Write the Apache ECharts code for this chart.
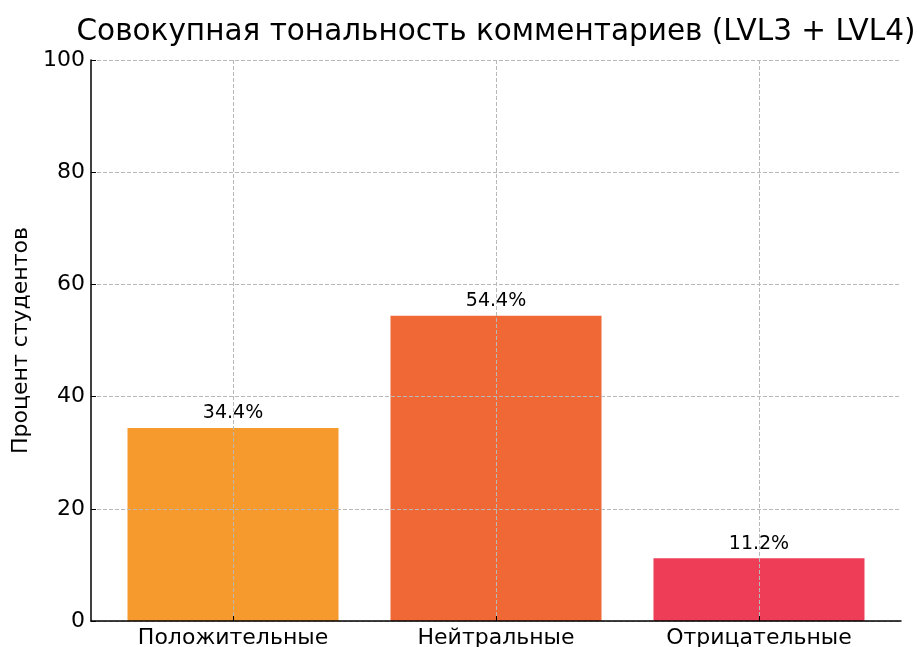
<!DOCTYPE html>
<html>
<head>
<meta charset="utf-8">
<script src="https://cdn.jsdelivr.net/npm/echarts@6/dist/echarts.min.js"></script>
<style>
  html, body { margin: 0; padding: 0; background: #fff; }
  #chart { width: 917px; height: 647px; }
</style>
</head>
<body>
<div id="chart"></div>
<script>
// данные
const categories = ['Положительные', 'Нейтральные', 'Отрицательные'];
const values = [34.4, 54.4, 11.2];
const colors = ['#F69A2E', '#F06836', '#EE3D57'];
const positions = [0, 1, 2];

const chart = echarts.init(document.getElementById('chart'), null, {renderer: 'canvas'});
const font = 'DejaVu Sans';
const gridLine = {show: true, lineStyle: {color: '#b8b8b8', type: [4, 2], width: 1}};

chart.setOption({
    backgroundColor: '#fff',
    animation: false,
    textStyle: {fontFamily: font},
    title: {
        text: 'Совокупная тональность комментариев (LVL3 + LVL4)',
        left: 491, top: 12, textAlign: 'center',
        textStyle: {fontFamily: font, fontSize: 29.5, fontWeight: 'normal', color: '#000'}
    },
    grid: {left: 91, right: 16, top: 60, bottom: 26, containLabel: false, outerBoundsMode: 'none'},
    xAxis: {
        type: 'value', min: -0.54, max: 2.54, z: 5,
        axisLine: {show: true, onZero: false, lineStyle: {color: '#000', width: 1.5}},
        axisTick: {show: true, inside: true, length: 5, customValues: positions, lineStyle: {color: '#000'}},
        axisLabel: {
            customValues: positions, margin: 6, fontSize: 22, color: '#000', fontFamily: font,
            formatter: v => categories[Math.round(v)] || ''
        },
        splitLine: gridLine
    },
    yAxis: {
        type: 'value', min: 0, max: 100, interval: 20, z: 5,
        name: 'Процент студентов', nameLocation: 'middle', nameGap: 58,
        nameTextStyle: {fontSize: 22, color: '#000', fontFamily: font},
        axisLine: {show: true, onZero: false, lineStyle: {color: '#000', width: 1.5}},
        axisTick: {show: true, inside: true, length: 5, lineStyle: {color: '#000'}},
        axisLabel: {fontSize: 22, color: '#000', margin: 6, fontFamily: font},
        splitLine: gridLine
    },
    series: [{
        type: 'bar', z: 1,
        barWidth: 211,
        data: values.map((v, i) => ({value: [positions[i], v], itemStyle: {color: colors[i]}})),
        label: {
            show: true, position: 'top', distance: 5,
            fontSize: 19, color: '#000', fontFamily: font,
            formatter: p => p.value[1].toFixed(1) + '%'
        }
    }]
});
window.addEventListener('resize', () => chart.resize());
</script>
</body>
</html>
